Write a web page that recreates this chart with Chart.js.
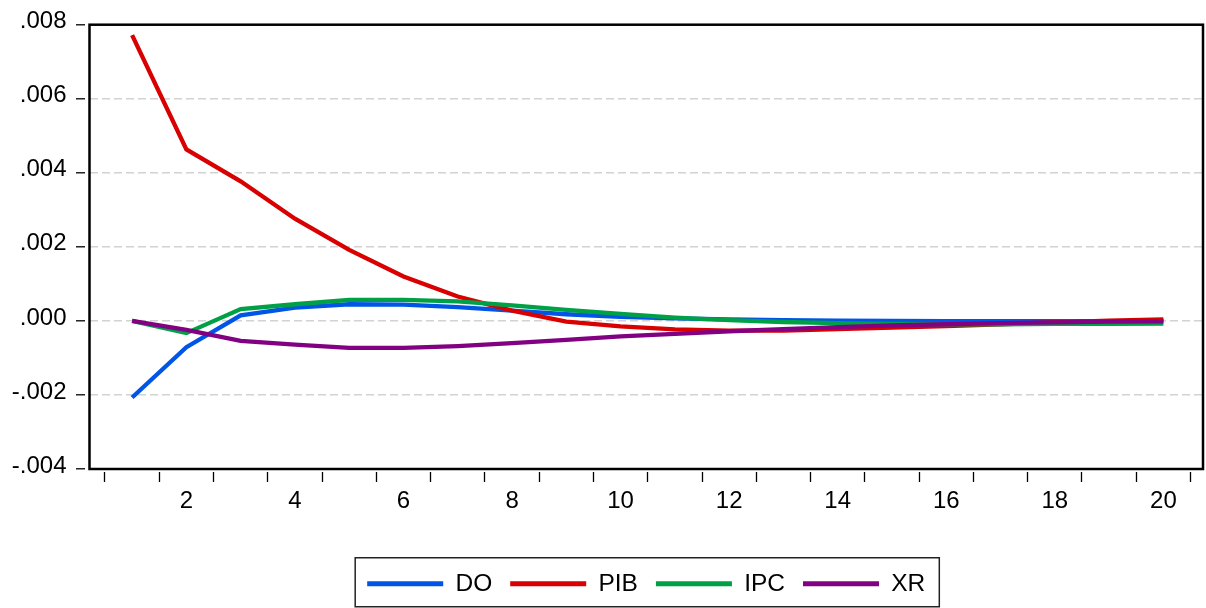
<!DOCTYPE html>
<html>
<head>
<meta charset="utf-8">
<script src="https://cdn.jsdelivr.net/npm/chart.js@4/dist/chart.umd.min.js"></script>
<style>
  html, body { margin: 0; padding: 0; background: #fff; }
  #wrap { width: 1206px; height: 608px; position: relative; }
</style>
</head>
<body>
<div id="wrap"><canvas id="irfChart"></canvas></div>
<script>
// response periods
const periods = [1, 2, 3, 4, 5, 6, 7, 8, 9, 10, 11, 12, 13, 14, 15, 16, 17, 18, 19, 20];

// responses
const doValues = [-0.00207, -0.00071, 0.00015, 0.00036, 0.00045, 0.00044, 0.00037, 0.00028, 0.00018, 0.00011,
  0.00007, 0.00004, 0.00002, 0.00001, 0.00000, -0.00001, -0.00001, -0.00001, -0.00001, 0.00000];
const pibValues = [0.00772, 0.00463, 0.00377, 0.00276, 0.00192, 0.00120, 0.00066, 0.00028, -0.00002, -0.00015,
  -0.00023, -0.00026, -0.00026, -0.00022, -0.00018, -0.00014, -0.00009, -0.00004, 0.00001, 0.00004];
const ipcValues = [0.00000, -0.00033, 0.00032, 0.00045, 0.00057, 0.00057, 0.00053, 0.00042, 0.00030, 0.00019,
  0.00009, 0.00002, -0.00003, -0.00006, -0.00008, -0.00009, -0.00009, -0.00008, -0.00008, -0.00007];
const xrValues = [0.00000, -0.00024, -0.00054, -0.00064, -0.00073, -0.00073, -0.00068, -0.00060, -0.00051, -0.00042,
  -0.00035, -0.00028, -0.00022, -0.00017, -0.00012, -0.00009, -0.00006, -0.00004, -0.00002, -0.00001];

// axis ticks
const yTicks = [-0.004, -0.002, 0.000, 0.002, 0.004, 0.006, 0.008];
const xTickMarks = [0.5, 1.5, 2.5, 3.5, 4.5, 5.5, 6.5, 7.5, 8.5, 9.5, 10.5, 11.5, 12.5, 13.5, 14.5, 15.5, 16.5, 17.5, 18.5, 19.5, 20.5];
const xLabels = [2, 4, 6, 8, 10, 12, 14, 16, 18, 20];

const FONT = "'Liberation Sans', Arial, sans-serif";

function series(label, values, color, order) {
  return {
    label,
    data: periods.map((p, i) => ({ x: p, y: values[i] })),
    borderColor: color,
    backgroundColor: color,
    borderWidth: 4.3,
    pointRadius: 0,
    tension: 0,
    order,
  };
}

function formatTick(v) {
  const s = (Math.round(v * 1000) / 1000).toFixed(3);
  return s.replace("0.", ".");
}

// frame around the plot and box around the legend
const framePlugin = {
  id: "frame",
  afterDraw(chart) {
    const { ctx, chartArea } = chart;
    ctx.save();
    ctx.strokeStyle = "#000";
    ctx.lineWidth = 2.5;
    ctx.strokeRect(chartArea.left, chartArea.top, chartArea.right - chartArea.left, chartArea.bottom - chartArea.top);

    const boxes = chart.legend && chart.legend.legendHitBoxes;
    if (boxes && boxes.length) {
      const first = boxes[0];
      const last = boxes[boxes.length - 1];
      const mid = first.top + first.height / 2;
      ctx.lineWidth = 1.5;
      ctx.strokeStyle = "#222";
      ctx.strokeRect(first.left - 12, mid - 26, last.left + last.width - first.left + 26, 49);
    }
    ctx.restore();
  },
};

new Chart(document.getElementById("irfChart").getContext("2d"), {
  type: "line",
  data: {
    datasets: [
      series("DO", doValues, "#0055e6", 4),
      series("PIB", pibValues, "#d80000", 3),
      series("IPC", ipcValues, "#00a046", 2),
      series("XR", xrValues, "#820082", 1),
    ],
  },
  options: {
    responsive: true,
    maintainAspectRatio: false,
    animation: false,
    layout: { padding: { top: 24.7, right: 3, bottom: 2, left: 0 } },
    scales: {
      x: {
        type: "linear",
        min: 0.215,
        max: 20.73,
        afterBuildTicks: (scale) => {
          scale.ticks = xTickMarks.concat(xLabels).sort((a, b) => a - b).map((v) => ({ value: v }));
        },
        afterFit: (scale) => { scale.height = 84.5; },
        border: { display: false },
        grid: {
          drawOnChartArea: false,
          drawTicks: true,
          tickLength: 13,
          tickWidth: 1.3,
          tickColor: (ctx) => (ctx.tick && ctx.tick.value % 1 === 0.5 ? "#000" : "rgba(0,0,0,0)"),
          tickBorderDash: [0, 3, 10, 50],
        },
        ticks: {
          autoSkip: false,
          maxRotation: 0,
          padding: 5,
          color: "#000",
          font: { family: FONT, size: 24 },
          callback: (v) => (xLabels.includes(v) ? String(v) : ""),
        },
      },
      y: {
        min: -0.004,
        max: 0.008,
        afterBuildTicks: (scale) => {
          scale.ticks = yTicks.map((v) => ({ value: v }));
        },
        afterFit: (scale) => { scale.width = 89.5; },
        border: { display: false, dash: [8, 4] },
        grid: {
          color: "#d2d2d2",
          lineWidth: 1.6,
          drawTicks: true,
          tickLength: 13.5,
          tickWidth: 1.3,
          tickColor: "#000",
          tickBorderDash: [9, 50],
        },
        ticks: {
          padding: 9.5,
          labelOffset: -3,
          color: "#000",
          font: { family: FONT, size: 24 },
          callback: (v) => formatTick(v),
        },
      },
    },
    plugins: {
      legend: {
        position: "bottom",
        fullSize: false,
        labels: {
          color: "#000",
          font: { family: FONT, size: 24.5 },
          boxWidth: 76,
          boxHeight: 5,
          padding: 18,
          sort: (a, b) => a.datasetIndex - b.datasetIndex,
          generateLabels: (chart) =>
            Chart.defaults.plugins.legend.labels.generateLabels(chart).map((item) => ({ ...item, lineWidth: 0 })),
        },
      },
      tooltip: { enabled: false },
    },
  },
  plugins: [framePlugin],
});
</script>
</body>
</html>
